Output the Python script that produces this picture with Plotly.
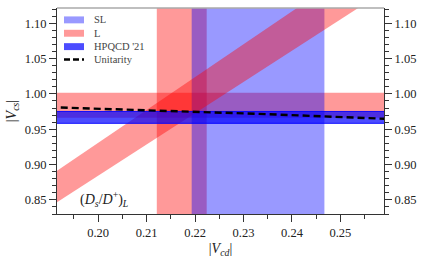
import plotly.graph_objects as go

# ---- data ----
x_range = [0.1915, 0.259]
y_range = [0.83, 1.1215]

sl_vcd = [0.2330, 0.0137]            # SL |Vcd| central, half-width
l_vcd = [0.21725, 0.00515]           # L |Vcd|
l_vcs = [0.9838, 0.0176]             # L |Vcs|
l_ratio = [4.537, 0.116]             # (Ds/D+)_L ratio |Vcs|/|Vcd|
hpqcd_vcs = [0.9667, 0.0084]         # HPQCD '21 |Vcs|

unit_vcd = [0.19, 0.20, 0.21, 0.22, 0.23, 0.24, 0.25, 0.26]
unit_vcs = [0.9811, 0.9791, 0.9770, 0.9748, 0.9724, 0.9699, 0.9673, 0.9645]

x_ticks = [0.20, 0.21, 0.22, 0.23, 0.24, 0.25]
y_ticks = [0.85, 0.90, 0.95, 1.00, 1.05, 1.10]

legend_names = ["SL", "L", "HPQCD '21", "Unitarity"]

SL_C = "rgba(0,0,255,0.4)"
L_C = "rgba(255,0,0,0.4)"
HP_C = "rgba(0,0,255,0.7)"
FONT = "Liberation Serif"

W, H = 424, 262
ML, MR, MT, MB = 57, 40, 8, 46

fig = go.Figure()

def vband(c, w, color):
    x0, x1 = c - w, c + w
    fig.add_trace(go.Scatter(x=[x0, x1, x1, x0, x0],
                             y=[y_range[0] - 1, y_range[0] - 1, y_range[1] + 1, y_range[1] + 1, y_range[0] - 1],
                             fill="toself", fillcolor=color, line=dict(width=0), mode="lines",
                             showlegend=False, hoverinfo="skip"))

def hband(c, w, color, lw=0):
    y0, y1 = c - w, c + w
    fig.add_trace(go.Scatter(x=[0.0, 1.0, 1.0, 0.0, 0.0], y=[y0, y0, y1, y1, y0],
                             fill="toself", fillcolor=color,
                             line=dict(width=lw, color="rgba(0,0,255,0.9)"), mode="lines",
                             showlegend=False, hoverinfo="skip"))

# L vertical & horizontal
vband(l_vcd[0], l_vcd[1], L_C)
hband(l_vcs[0], l_vcs[1], L_C)
# SL vertical
vband(sl_vcd[0], sl_vcd[1], SL_C)
# L diagonal (ratio)
xs = [0.15, 0.30]
k0, k1 = l_ratio[0] - l_ratio[1], l_ratio[0] + l_ratio[1]
fig.add_trace(go.Scatter(x=[xs[0], xs[1], xs[1], xs[0], xs[0]],
                         y=[k0 * xs[0], k0 * xs[1], k1 * xs[1], k1 * xs[0], k0 * xs[0]],
                         fill="toself", fillcolor=L_C, line=dict(width=0), mode="lines",
                         showlegend=False, hoverinfo="skip"))
# HPQCD
hband(hpqcd_vcs[0], hpqcd_vcs[1], HP_C, lw=1)
# Unitarity
fig.add_trace(go.Scatter(x=unit_vcd, y=unit_vcs, mode="lines",
                         line=dict(color="black", width=2.4, dash="7px,4px"),
                         showlegend=False, hoverinfo="skip"))
# dummy for right axis
fig.add_trace(go.Scatter(x=[x_range[0]], y=[y_range[0]], yaxis="y2", mode="markers",
                         marker=dict(opacity=0), showlegend=False, hoverinfo="skip"))

axis_common = dict(showgrid=False, zeroline=False, showline=True, linecolor="#333333", linewidth=1,
                   ticks="outside", ticklen=7, tickwidth=1, tickcolor="#333333",
                   tickfont=dict(family=FONT, size=12.5, color="#222222"))

# manual legend (pixel positions converted to paper coords)
pw, ph = W - ML - MR, H - MT - MB
def px(xp):
    return (xp - ML) / pw
def py(yp):
    return 1 - (yp - MT) / ph

shapes = [dict(type="line", xref="paper", yref="paper", x0=0, x1=1, y0=1, y1=1,
               line=dict(color="#aaaaaa", width=1.5))]
annotations = []
leg_colors = [SL_C, L_C, HP_C, None]
leg_y = [20, 33.5, 47, 60]
for name, col, yy in zip(legend_names, leg_colors, leg_y):
    if col is not None:
        shapes.append(dict(type="rect", xref="paper", yref="paper",
                           x0=px(64), x1=px(84), y0=py(yy + 3.5), y1=py(yy - 3.5),
                           fillcolor=col, line=dict(width=0)))
    else:
        shapes.append(dict(type="line", xref="paper", yref="paper",
                           x0=px(64), x1=px(84), y0=py(yy), y1=py(yy),
                           line=dict(color="black", width=2.4, dash="6px,3px")))
    annotations.append(dict(text=name, xref="paper", yref="paper", x=px(92), y=py(yy),
                            xanchor="left", yanchor="middle", showarrow=False,
                            font=dict(family=FONT, size=10.5, color="#444444")))

annotations.append(dict(text="(<i>D</i><sub><i>s</i></sub>/<i>D</i><sup>+</sup>)<sub><i>L</i></sub>",
                        x=0.2013, y=0.851, xref="x", yref="y", showarrow=False,
                        font=dict(family=FONT, size=14, color="#222222")))

fig.update_layout(
    width=W, height=H,
    margin=dict(l=ML, r=MR, t=MT, b=MB),
    plot_bgcolor="white", paper_bgcolor="white",
    font=dict(family=FONT, color="#222222"),
    showlegend=False,
    xaxis=dict(range=x_range, tickvals=x_ticks, ticktext=[f"{v:.2f}" for v in x_ticks],
               minor=dict(dtick=0.005, tick0=0.0, ticklen=4, ticks="outside", tickcolor="#333333"),
               title=dict(text="|<i>V</i><sub><i>cd</i></sub>|", font=dict(family=FONT, size=14), standoff=4),
               **axis_common),
    yaxis=dict(range=y_range, tickvals=y_ticks, ticktext=[f"{v:.2f}" for v in y_ticks],
               minor=dict(dtick=0.01, tick0=0.0, ticklen=4, ticks="outside", tickcolor="#333333"),
               title=dict(text="|<i>V</i><sub><i>cs</i></sub>|", font=dict(family=FONT, size=14), standoff=4),
               **axis_common),
    yaxis2=dict(range=y_range, overlaying="y", side="right", tickvals=y_ticks,
                ticktext=[f"{v:.2f}" for v in y_ticks],
                minor=dict(dtick=0.01, tick0=0.0, ticklen=4, ticks="outside", tickcolor="#333333"),
                **axis_common),
    shapes=shapes,
    annotations=annotations,
)

fig.write_html("out.html", config={"displayModeBar": False},
               post_script="document.body.style.margin='0';document.body.style.overflow='hidden';")
